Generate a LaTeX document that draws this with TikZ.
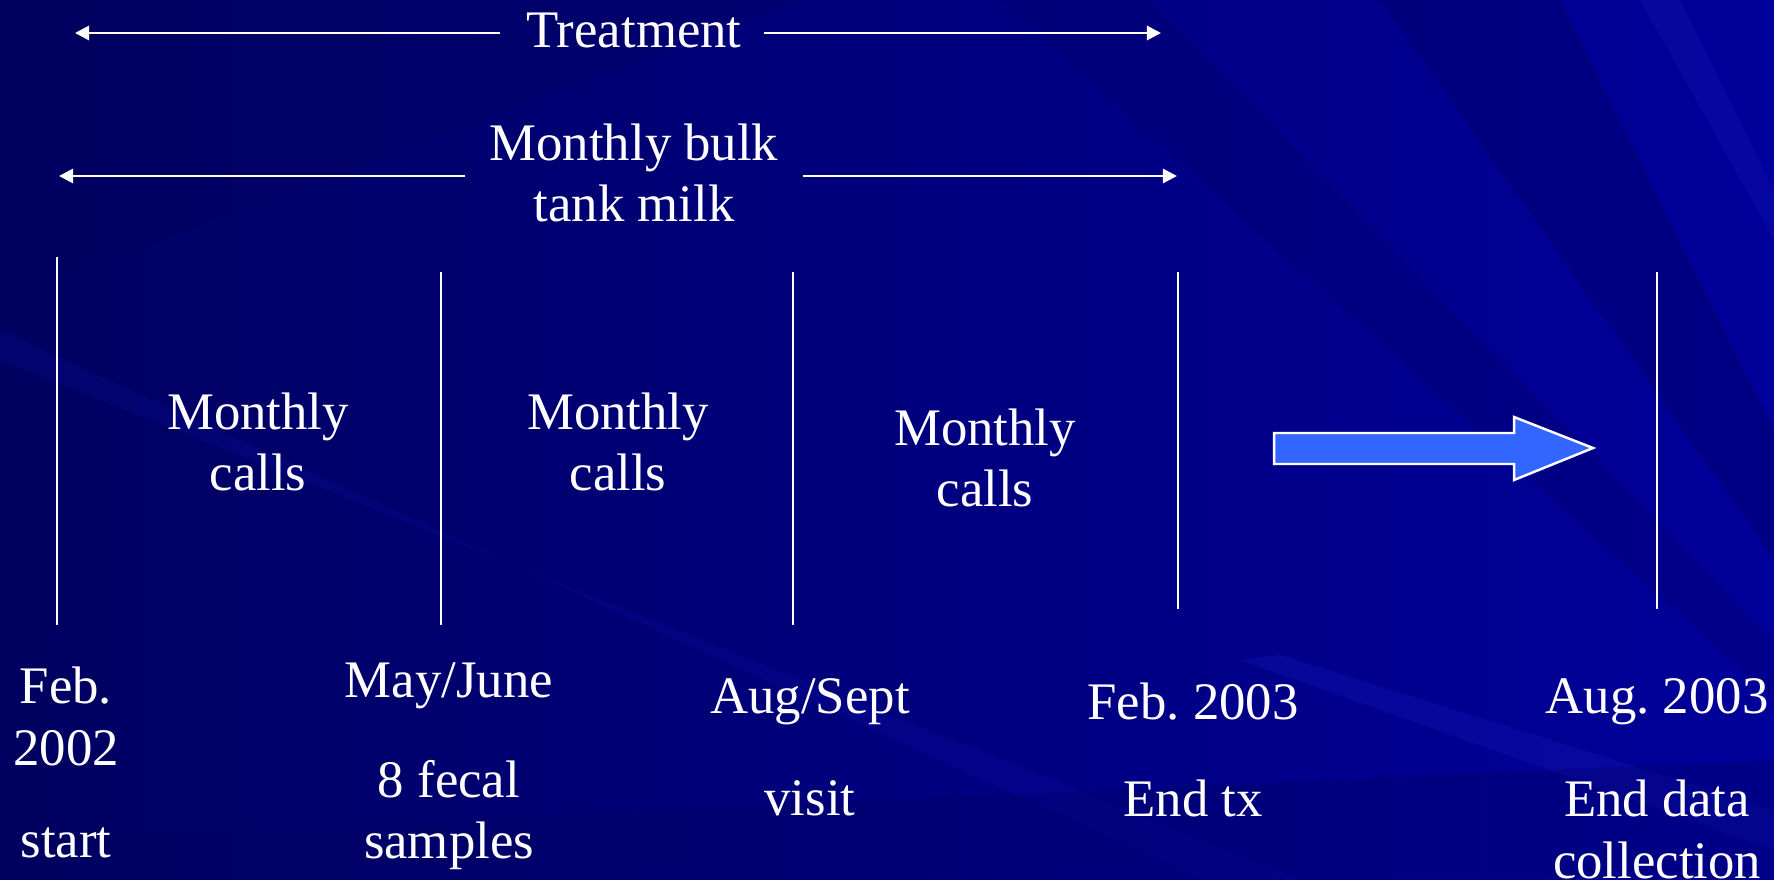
\documentclass[tikz,border=0pt]{standalone}
\usepackage{fontspec}
\setmainfont{Liberation Serif}
\usetikzlibrary{arrows.meta,positioning}
\definecolor{slidebg}{HTML}{00009A}
\definecolor{slidedark}{HTML}{000060}
\definecolor{slidelight}{HTML}{1418B4}
\definecolor{arrowblue}{HTML}{3366FF}
\tikzset{
  txt/.style={text=white, font=\fontsize{15}{17.6}\selectfont, align=center, inner sep=1pt},
  span/.style={draw=white, line width=0.8pt, -{Triangle[length=4pt,width=4pt]}},
  divider/.style={draw=white, line width=0.6pt},
}
\begin{document}
\begin{tikzpicture}[x=0.01cm,y=-0.01cm]
% background
\useasboundingbox (0,0) rectangle (1774,879);
\shade[left color=slidedark, right color=slidebg] (0,0) rectangle (1774,879);
\fill[slidedark, opacity=0.35] (0,0) -- (800,0) -- (0,300) -- cycle;
\fill[slidelight, opacity=0.18] (0,330) -- (0,360) -- (1300,879) -- (1200,879) -- cycle;
\fill[slidedark, opacity=0.35] (1380,0) -- (1560,0) -- (1774,430) -- (1774,560) -- cycle;
\fill[slidedark, opacity=0.25] (1000,0) -- (1150,0) -- (1774,640) -- (1774,700) -- cycle;
\fill[slidelight, opacity=0.35] (1240,660) -- (1280,655) -- (1774,810) -- (1774,850) -- cycle;
\fill[slidelight, opacity=0.3] (1640,0) -- (1680,0) -- (1774,190) -- (1774,240) -- cycle;
\fill[slidedark, opacity=0.3] (0,840) -- (1774,760) -- (1774,879) -- (0,879) -- cycle;

% top spans
\node[txt] (treat) at (634,30) {Treatment};
\coordinate (treatL) at (75,33);
\coordinate (treatR) at (1161,33);
\draw[span] (treat.west) ++(-22,3) -- (treatL);
\draw[span] (treat.east) ++(18,3) -- (treatR);

\node[txt] (bulk) at (634,173) {Monthly bulk\\tank milk};
\coordinate (bulkL) at (59,176);
\coordinate (bulkR) at (1177,176);
\draw[span] (bulk.west) ++(-20,3) -- (bulkL);
\draw[span] (bulk.east) ++(20,3) -- (bulkR);

% dividers
\foreach \n/\x/\t/\b in {v1/57/257/625, v2/441/272/625, v3/793/272/625, v4/1178/272/609, v5/1657/272/609} {
  \coordinate (\n top) at (\x,\t);
  \coordinate (\n bot) at (\x,\b);
  \draw[divider] (\n top) -- (\n bot);
}

% periods
\node[txt] (calls1) at (258,442) {Monthly\\calls};
\node[txt] (calls2) at (618,442) {Monthly\\calls};
\node[txt] (calls3) at (985,458) {Monthly\\calls};

% follow-up arrow
\coordinate (fa1) at (1274,433);
\coordinate (fa2) at (1514,433);
\coordinate (fa3) at (1514,417);
\coordinate (fa4) at (1593,448);
\coordinate (fa5) at (1514,480);
\coordinate (fa6) at (1514,464);
\coordinate (fa7) at (1274,464);
\filldraw[fill=arrowblue, draw=white, line width=0.7pt] (fa1) -- (fa2) -- (fa3) -- (fa4) -- (fa5) -- (fa6) -- (fa7) -- cycle;

% dates
\node[txt] (d1) at (66,686) {Feb.};
\node[txt] (d1b) at (66,748) {2002};
\node[txt] (d1c) at (66,843) {start};
\node[txt] (d2) at (449,686) {May/June};
\node[txt] (d2b) at (449,815) {8 fecal\\samples};
\node[txt] (d3) at (810,702) {Aug/Sept};
\node[txt] (d3b) at (810,798) {visit};
\node[txt] (d4) at (1193,702) {Feb.\ 2003};
\node[txt] (d4b) at (1193,798) {End tx};
\node[txt] (d5) at (1657,702) {Aug.\ 2003};
\node[txt] (d5b) at (1657,829) {End data\\collection};
\end{tikzpicture}
\end{document}
